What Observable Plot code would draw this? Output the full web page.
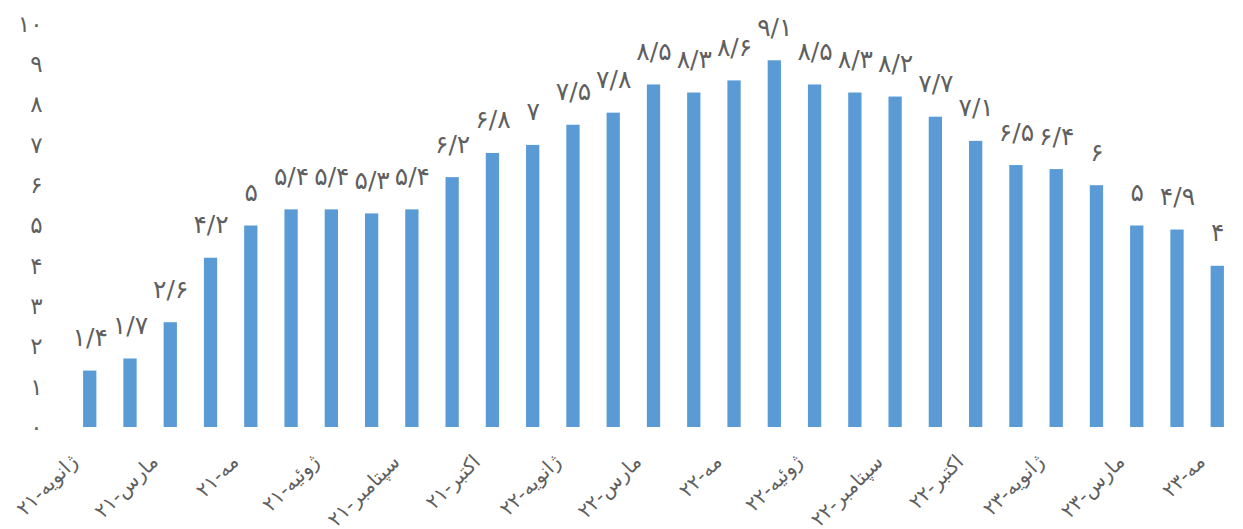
<!DOCTYPE html>
<html>
<head>
<meta charset="utf-8">
<script src="https://cdn.jsdelivr.net/npm/d3@7"></script>
<script src="https://cdn.jsdelivr.net/npm/@observablehq/plot@0.6"></script>
<style>
  html, body { margin: 0; padding: 0; background: #fff; }
  #chart { width: 1243px; height: 529px; }
</style>
</head>
<body>
<div id="chart"></div>
<script>
// Months (index order), values, and tick labels for every other month
const months = [
  "2021-01","2021-02","2021-03","2021-04","2021-05","2021-06","2021-07","2021-08","2021-09","2021-10","2021-11","2021-12",
  "2022-01","2022-02","2022-03","2022-04","2022-05","2022-06","2022-07","2022-08","2022-09","2022-10","2022-11","2022-12",
  "2023-01","2023-02","2023-03","2023-04","2023-05"
];
const values = [1.4, 1.7, 2.6, 4.2, 5, 5.4, 5.4, 5.3, 5.4, 6.2, 6.8, 7, 7.5, 7.8, 8.5, 8.3, 8.6, 9.1, 8.5, 8.3, 8.2, 7.7, 7.1, 6.5, 6.4, 6, 5, 4.9, 4];
const tickMonths = ["2021-01","2021-03","2021-05","2021-07","2021-09","2021-11","2022-01","2022-03","2022-05","2022-07","2022-09","2022-11","2023-01","2023-03","2023-05"];
const tickLabels = ["ژانویه-۲۱","مارس-۲۱","مه-۲۱","ژوئیه-۲۱","سپتامبر-۲۱","اکتبر-۲۱","ژانویه-۲۲","مارس-۲۲","مه-۲۲","ژوئیه-۲۲","سپتامبر-۲۲","اکتبر-۲۲","ژانویه-۲۳","مارس-۲۳","مه-۲۳"];

const faDigits = "۰۱۲۳۴۵۶۷۸۹";
const toFa = v => String(v).replace(/\d/g, c => faDigits[+c]).replace(".", "/");

const data = months.map((m, i) => ({month: m, value: values[i], label: toFa(values[i])}));
const tickMap = new Map(tickMonths.map((m, i) => [m, tickLabels[i]]));

const font = "'DejaVu Sans', sans-serif";
const textColor = "#5f5f5f";

const chart = Plot.plot({
  width: 1243,
  height: 529,
  marginLeft: 71,
  marginRight: 7,
  marginTop: 24,
  marginBottom: 102,
  style: {fontFamily: font, color: textColor, background: "#fff", overflow: "visible"},
  x: {type: "band", domain: months, paddingInner: 0.67, paddingOuter: 0.3, round: false, label: null},
  y: {domain: [0, 10], label: null},
  marks: [
    Plot.barY(data, {x: "month", y: "value", fill: "#5B9BD5"}),
    Plot.text(data, {x: "month", y: "value", text: "label", dy: -33, fontSize: 25, fill: textColor, fontFamily: font}),
    Plot.axisY({ticks: d3.range(0, 11), tickSize: 0, tickPadding: 29, tickFormat: toFa, fontSize: 23, fill: textColor, label: null}),
    Plot.axisX({ticks: tickMonths, tickSize: 0, tickPadding: 22, tickRotate: -45, tickFormat: d => tickMap.get(d), fontSize: 20, fill: textColor, label: null, dx: -16, dy: 9})
  ]
});
document.getElementById("chart").appendChild(chart);
</script>
</body>
</html>
